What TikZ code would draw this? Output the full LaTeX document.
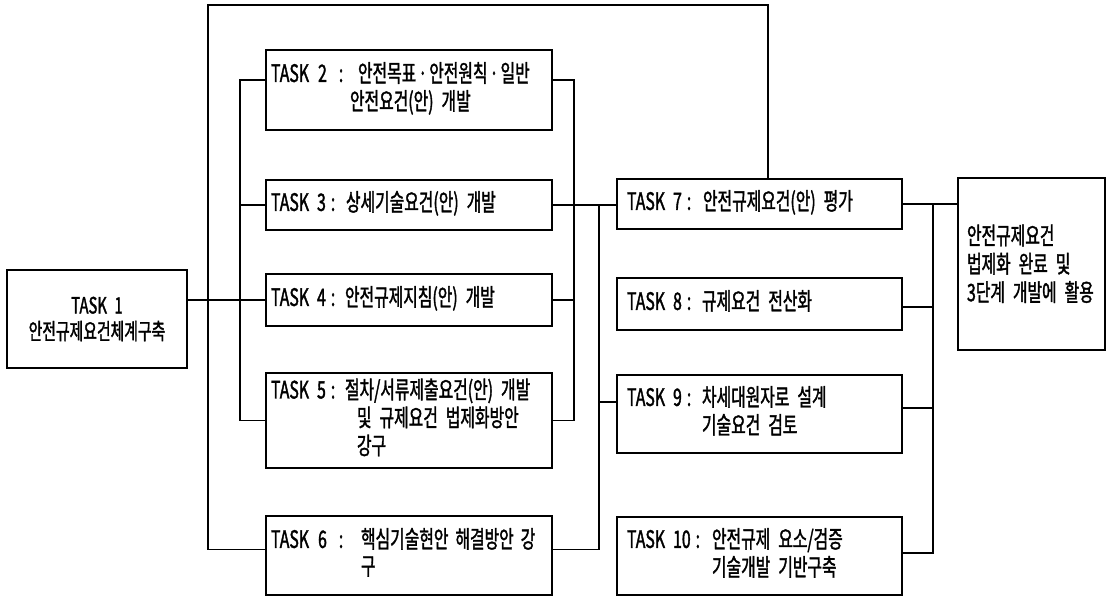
\documentclass[tikz,border=0pt]{standalone}
\usepackage{fontspec}
\setmainfont{Noto Sans CJK KR}[FakeStretch=0.66, FakeBold=1.5, WordSpace=0.6]
\usetikzlibrary{calc}
\newcommand{\md}{\makebox[13pt][c]{·}}
\tikzset{
  box/.style={draw, line width=1.6pt, rectangle, outer sep=0pt, inner xsep=5pt, inner ysep=0pt,
    anchor=north west, align=left, font=\fontsize{24}{27}\selectfont},
  conn/.style={line width=1.6pt},
}
\begin{document}
\begin{tikzpicture}[x=1pt, y=-1pt]
\useasboundingbox (0,0) rectangle (1108,597);

% left column
\node[box, align=center, text width=170pt, minimum height=98pt, font=\fontsize{22.5}{27}\selectfont] (T1) at (7,270)
  {TASK 1\\[-1pt]안전규제요건체계구축};

% middle column
\node[box, text width=276pt, minimum height=80pt] (T2) at (266,50)
  {\begin{tabular}{@{}l@{}l@{}}\makebox[87pt][l]{TASK\hspace{9pt}2\hspace{12pt}:} & 안전목표\md 안전원칙\md 일반\\ & \hspace{-8pt}안전요건(안) 개발\end{tabular}};
\node[box, text width=276pt, minimum height=50pt] (T3) at (266,180)
  {\begin{tabular}{@{}l@{}l@{}}\makebox[75pt][l]{TASK 3\hspace{5pt}:} & 상세기술요건(안) 개발\end{tabular}};
\node[box, text width=276pt, minimum height=52pt] (T4) at (266,274)
  {\begin{tabular}{@{}l@{}l@{}}\makebox[74pt][l]{TASK 4\hspace{5pt}:} & 안전규제지침(안) 개발\end{tabular}};
\node[box, text width=276pt, minimum height=95pt] (T5) at (266,373)
  {\begin{tabular}{@{}l@{}l@{}}\makebox[74pt][l]{TASK 5\hspace{5pt}:} & 절차/서류제출요건(안) 개발\\ & \hspace{12pt}및 규제요건 법제화방안\\ & \hspace{12pt}강구\end{tabular}};
\node[box, text width=276pt, minimum height=79pt] (T6) at (266,516)
  {\begin{tabular}{@{}l@{}l@{}}\makebox[90pt][l]{TASK\hspace{9pt}6\hspace{12pt}:} & 핵심기술현안\hspace{7pt}해결방안\hspace{7pt}강\\ & 구\end{tabular}};

% right column
\node[box, inner xsep=10pt, text width=265pt, minimum height=50pt] (T7) at (617,179)
  {\begin{tabular}{@{}l@{}l@{}}\makebox[76pt][l]{TASK 7\hspace{5pt}:} & 안전규제요건(안) 평가\end{tabular}};
\node[box, inner xsep=10pt, text width=265pt, minimum height=52pt] (T8) at (617,278)
  {\begin{tabular}{@{}l@{}l@{}}\makebox[75pt][l]{TASK 8\hspace{5pt}:} & 규제요건 전산화\end{tabular}};
\node[box, inner xsep=10pt, text width=265pt, minimum height=78pt] (T9) at (617,375)
  {\begin{tabular}{@{}l@{}l@{}}\makebox[75pt][l]{TASK 9\hspace{5pt}:} & 차세대원자로 설계\\ & 기술요건 검토\end{tabular}};
\node[box, inner xsep=10pt, text width=265pt, minimum height=78pt] (T10) at (617,517)
  {\begin{tabular}{@{}l@{}l@{}}\makebox[85pt][l]{TASK 10\hspace{5pt}:} & 안전규제 요소/검증\\ & 기술개발 기반구축\end{tabular}};

% result box
\node[box, inner xsep=9pt, text width=129pt, minimum height=172pt, font=\fontsize{24}{28}\selectfont] (F) at (958,178)
  {\begin{tabular}{@{}l@{}}\rule{0pt}{26pt}안전규제요건\\법제화 완료 및\\3단계 개발에 활용\end{tabular}};

% bus coordinates
\coordinate (tl) at (208,5);
\coordinate (tr) at (768,5);
\coordinate (bL) at (240,80);
\coordinate (bR) at (574,80);
\coordinate (bM) at (599,205);
\coordinate (bRR) at (933,204);
\coordinate (c2l) at ($(T2.west)+(0,-10)$);
\coordinate (c2r) at ($(T2.east)+(0,-10)$);
\coordinate (c6l) at ($(T6.west)+(0,-6)$);
\coordinate (c6r) at ($(T6.east)+(0,-6)$);
\coordinate (c9l) at ($(T9.west)+(0,-12)$);
\coordinate (c9r) at ($(T9.east)+(0,-6)$);
\coordinate (c8r) at ($(T8.east)+(0,3)$);
\coordinate (c10r) at ($(T10.east)+(0,-3)$);

% connectors
\draw[conn] (T4.west -| T1.east) -- (T4.west);
\draw[conn] (c6l) -| (tl) -- (tr) -- (tr |- T7.north);
\draw[conn] (c2l) -- (bL) -- (bL |- T5.west) -- (T5.west);
\draw[conn] (T3.west) -- (T3.west -| bL);
\draw[conn] (c2r) -- (bR) -- (bR |- T5.east) -- (T5.east);
\draw[conn] (T4.east) -- (T4.east -| bR);
\draw[conn] (T3.east) -- (T3.east -| T7.west);
\draw[conn] (bM) |- (c6r);
\draw[conn] (c9l) -- (c9l -| bM);
\draw[conn] (T7.east) -- (T7.east -| F.west);
\draw[conn] (bRR) -- (bRR |- c10r) -- (c10r);
\draw[conn] (c8r) -- (c8r -| bRR);
\draw[conn] (c9r) -- (c9r -| bRR);
\end{tikzpicture}
\end{document}
